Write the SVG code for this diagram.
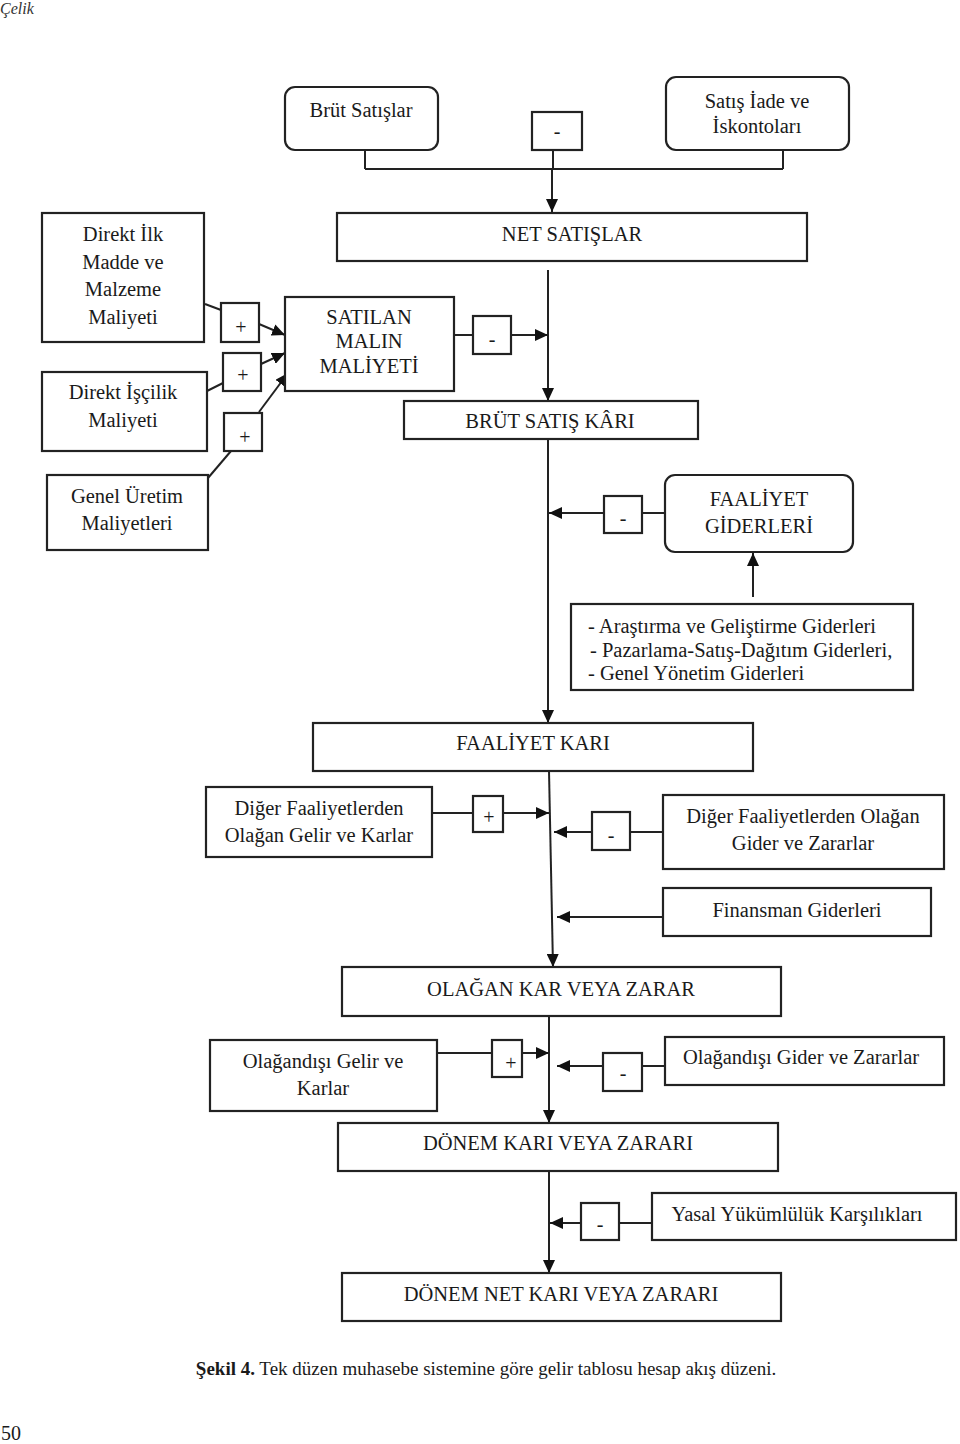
<svg xmlns="http://www.w3.org/2000/svg" width="960" height="1444" viewBox="0 0 960 1444">
<style>
.b{fill:#fff;stroke:#222;stroke-width:2.2}
.c{fill:none;stroke:#222;stroke-width:2}
.t{font-family:"Liberation Serif","Times New Roman",serif;font-size:20.5px;fill:#1a1a1a;text-anchor:middle}
.s{font-family:"Liberation Serif","Times New Roman",serif;font-size:20px;fill:#1a1a1a;text-anchor:middle}
.l{text-anchor:start}
</style>
<defs>
<marker id="ah" markerUnits="userSpaceOnUse" markerWidth="14" markerHeight="12" refX="13" refY="6" orient="auto">
<path d="M0,0 L13,6 L0,12 z" fill="#111"/>
</marker>
</defs>
<rect width="960" height="1444" fill="#fff"/>
<text x="0" y="14" style="font-family:'Liberation Serif',serif;font-style:italic;font-size:16px;fill:#333">Çelik</text>

<g id="connectors">
<path class="c" d="M365,150 V169 M553,150 V169 M783,150 V169 M365,169 H783"/>
<path class="c" d="M552,169 V212" marker-end="url(#ah)"/>
<path class="c" d="M548,270 V401" marker-end="url(#ah)"/>
<path class="c" d="M548,439 V723" marker-end="url(#ah)"/>
<path class="c" d="M549,771 L553,967" marker-end="url(#ah)"/>
<path class="c" d="M549,1016 V1123" marker-end="url(#ah)"/>
<path class="c" d="M549,1171 V1273" marker-end="url(#ah)"/>
<path class="c" d="M454,335 H473"/>
<path class="c" d="M511,335 H548" marker-end="url(#ah)"/>
<path class="c" d="M665,513 H642"/>
<path class="c" d="M604,513 H549" marker-end="url(#ah)"/>
<path class="c" d="M753,597 V553" marker-end="url(#ah)"/>
<path class="c" d="M432,813 H473"/>
<path class="c" d="M503,813 H549" marker-end="url(#ah)"/>
<path class="c" d="M663,832 H630"/>
<path class="c" d="M592,832 H554" marker-end="url(#ah)"/>
<path class="c" d="M663,917 H557" marker-end="url(#ah)"/>
<path class="c" d="M437,1053 H492"/>
<path class="c" d="M522,1053 H549" marker-end="url(#ah)"/>
<path class="c" d="M665,1066 H642"/>
<path class="c" d="M603,1066 H557" marker-end="url(#ah)"/>
<path class="c" d="M652,1223 H619"/>
<path class="c" d="M581,1223 H550" marker-end="url(#ah)"/>
<path class="c" d="M205,304 L221,310"/>
<path class="c" d="M259,324 L285,335" marker-end="url(#ah)"/>
<path class="c" d="M207,391 L223,383"/>
<path class="c" d="M261,364 L285,353" marker-end="url(#ah)"/>
<path class="c" d="M208,478 L231,451"/>
<path class="c" d="M259,412 L288,373" marker-end="url(#ah)"/>
</g>

<g id="brut-satislar"><rect class="b" x="285" y="87" width="153" height="63" rx="10"/><text class="t" x="361" y="117">Brüt Satışlar</text></g>
<g id="minus-1"><rect class="b" x="532" y="112" width="50" height="38"/><text class="s" x="557" y="138">-</text></g>
<g id="satis-iade"><rect class="b" x="666" y="77" width="183" height="73" rx="10"/><text class="t" x="757" y="108">Satış İade ve</text><text class="t" x="757" y="133">İskontoları</text></g>
<g id="net-satislar"><rect class="b" x="337" y="213" width="470" height="48"/><text class="t" x="572" y="241">NET SATIŞLAR</text></g>
<g id="direkt-ilk"><rect class="b" x="42" y="213" width="162" height="129"/><text class="t" x="123" y="241">Direkt İlk</text><text class="t" x="123" y="269">Madde ve</text><text class="t" x="123" y="296">Malzeme</text><text class="t" x="123" y="324">Maliyeti</text></g>
<g id="plus-1"><rect class="b" x="221" y="303" width="38" height="39"/><text class="s" x="241" y="334">+</text></g>
<g id="plus-2"><rect class="b" x="223" y="353" width="38" height="38"/><text class="s" x="243" y="382">+</text></g>
<g id="plus-3"><rect class="b" x="224" y="413" width="38" height="38"/><text class="s" x="245" y="444">+</text></g>
<g id="satilan-malin"><rect class="b" x="285" y="297" width="169" height="94"/><text class="t" x="369" y="324">SATILAN</text><text class="t" x="369" y="348">MALIN</text><text class="t" x="369" y="373">MALİYETİ</text></g>
<g id="minus-2"><rect class="b" x="473" y="316" width="38" height="38"/><text class="s" x="492" y="346">-</text></g>
<g id="direkt-iscilik"><rect class="b" x="42" y="372" width="165" height="79"/><text class="t" x="123" y="399">Direkt İşçilik</text><text class="t" x="123" y="427">Maliyeti</text></g>
<g id="brut-satis-kari"><rect class="b" x="404" y="401" width="294" height="38"/><text class="t" x="550" y="428">BRÜT SATIŞ KÂRI</text></g>
<g id="genel-uretim"><rect class="b" x="47" y="475" width="161" height="75"/><text class="t" x="127" y="503">Genel Üretim</text><text class="t" x="127" y="530">Maliyetleri</text></g>
<g id="minus-3"><rect class="b" x="604" y="496" width="38" height="37"/><text class="s" x="623" y="525">-</text></g>
<g id="faaliyet-giderleri"><rect class="b" x="665" y="475" width="188" height="77" rx="10"/><text class="t" x="759" y="506">FAALİYET</text><text class="t" x="759" y="533">GİDERLERİ</text></g>
<g id="gider-listesi"><rect class="b" x="571" y="604" width="342" height="86"/><text class="t l" x="588" y="633">- Araştırma ve Geliştirme Giderleri</text><text class="t l" x="590" y="657">- Pazarlama-Satış-Dağıtım Giderleri,</text><text class="t l" x="588" y="680">- Genel Yönetim Giderleri</text></g>
<g id="faaliyet-kari"><rect class="b" x="313" y="723" width="440" height="48"/><text class="t" x="533" y="750">FAALİYET KARI</text></g>
<g id="diger-gelir"><rect class="b" x="206" y="787" width="226" height="70"/><text class="t" x="319" y="815">Diğer Faaliyetlerden</text><text class="t" x="319" y="842">Olağan Gelir ve Karlar</text></g>
<g id="plus-4"><rect class="b" x="473" y="796" width="30" height="36"/><text class="s" x="489" y="824">+</text></g>
<g id="minus-4"><rect class="b" x="592" y="812" width="38" height="38"/><text class="s" x="611" y="842">-</text></g>
<g id="diger-gider"><rect class="b" x="663" y="795" width="281" height="74"/><text class="t" x="803" y="823">Diğer Faaliyetlerden Olağan</text><text class="t" x="803" y="850">Gider ve Zararlar</text></g>
<g id="finansman"><rect class="b" x="663" y="888" width="268" height="48"/><text class="t" x="797" y="917">Finansman Giderleri</text></g>
<g id="olagan-kar"><rect class="b" x="342" y="967" width="439" height="49"/><text class="t" x="561" y="996">OLAĞAN KAR VEYA ZARAR</text></g>
<g id="olagandisi-gelir"><rect class="b" x="210" y="1040" width="227" height="71"/><text class="t" x="323" y="1068">Olağandışı Gelir ve</text><text class="t" x="323" y="1095">Karlar</text></g>
<g id="plus-5"><rect class="b" x="492" y="1040" width="30" height="37"/><text class="s" x="511" y="1070">+</text></g>
<g id="minus-5"><rect class="b" x="603" y="1053" width="39" height="38"/><text class="s" x="623" y="1080">-</text></g>
<g id="olagandisi-gider"><rect class="b" x="665" y="1037" width="279" height="48"/><text class="t" x="801" y="1064">Olağandışı Gider ve Zararlar</text></g>
<g id="donem-kari"><rect class="b" x="338" y="1123" width="440" height="48"/><text class="t" x="558" y="1150">DÖNEM KARI VEYA ZARARI</text></g>
<g id="minus-6"><rect class="b" x="581" y="1203" width="38" height="37"/><text class="s" x="600" y="1231">-</text></g>
<g id="yasal"><rect class="b" x="652" y="1193" width="304" height="47"/><text class="t" x="797" y="1221">Yasal Yükümlülük Karşılıkları</text></g>
<g id="donem-net"><rect class="b" x="342" y="1273" width="439" height="48"/><text class="t" x="561" y="1301">DÖNEM NET KARI VEYA ZARARI</text></g>

<text x="486" y="1375" style="font-family:'Liberation Serif',serif;font-size:19px;fill:#1a1a1a;text-anchor:middle"><tspan font-weight="bold">Şekil 4.</tspan> Tek düzen muhasebe sistemine göre gelir tablosu hesap akış düzeni.</text>
<text x="1" y="1440" style="font-family:'Liberation Serif',serif;font-size:20px;fill:#1a1a1a">50</text>
</svg>
